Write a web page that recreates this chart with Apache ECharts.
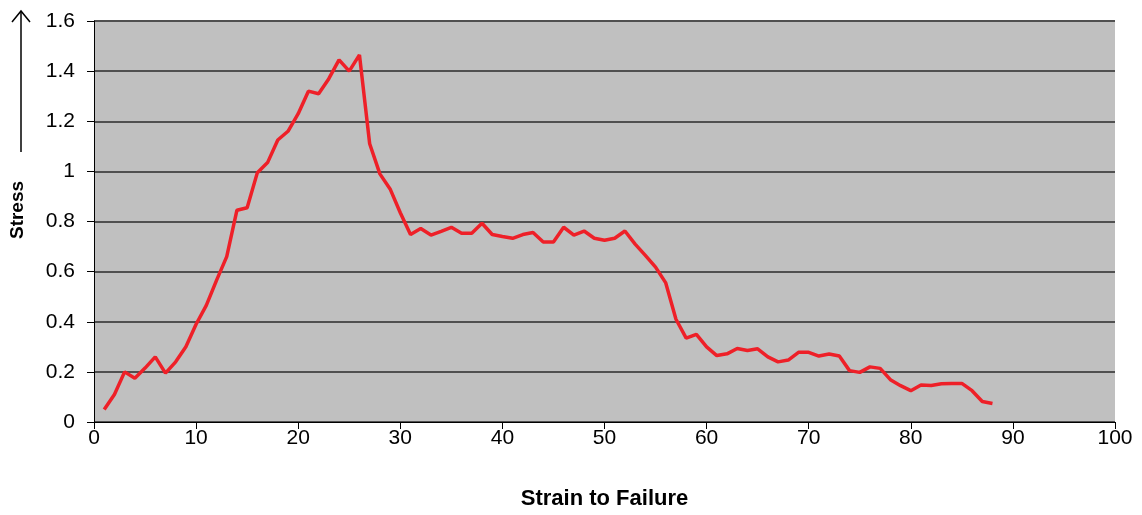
<!DOCTYPE html>
<html>
<head>
<meta charset="utf-8">
<script src="https://cdn.jsdelivr.net/npm/echarts@6/dist/echarts.min.js"></script>
<style>html,body{margin:0;padding:0;background:#fff;}#c{width:1142px;height:515px;}</style>
</head>
<body>
<div id="c"></div>
<script>
const strain = [1,2,3,4,5,6,7,8,9,10,11,12,13,14,15,16,17,18,19,20,21,22,23,24,25,26,27,28,29,30,31,32,33,34,35,36,37,38,39,40,41,42,43,44,45,46,47,48,49,50,51,52,53,54,55,56,57,58,59,60,61,62,63,64,65,66,67,68,69,70,71,72,73,74,75,76,77,78,79,80,81,82,83,84,85,86,87,88];
const stress = [0.05,0.11,0.20,0.175,0.215,0.26,0.195,0.24,0.30,0.39,0.465,0.565,0.66,0.845,0.855,0.995,1.035,1.125,1.16,1.23,1.32,1.31,1.37,1.445,1.40,1.465,1.11,0.99,0.93,0.835,0.748,0.772,0.746,0.761,0.777,0.753,0.753,0.793,0.748,0.740,0.733,0.748,0.756,0.718,0.718,0.777,0.746,0.762,0.733,0.725,0.733,0.762,0.71,0.665,0.618,0.555,0.41,0.335,0.35,0.30,0.265,0.272,0.293,0.285,0.292,0.26,0.24,0.247,0.278,0.278,0.263,0.271,0.263,0.205,0.198,0.22,0.214,0.169,0.145,0.125,0.148,0.146,0.153,0.154,0.154,0.125,0.082,0.074];
const xTitle = 'Strain to Failure';
const yTitle = 'Stress';

const chart = echarts.init(document.getElementById('c'));
const font = '"Liberation Sans", Arial, sans-serif';
chart.setOption({
  animation: false,
  grid: {left: 94, right: 27, top: 21, bottom: 92, show: true, backgroundColor: '#C0C0C0', borderWidth: 0},
  xAxis: {
    type: 'value', min: 0, max: 100, interval: 10,
    axisLine: {show: true, onZero: false, lineStyle: {color: '#000', width: 1}},
    axisTick: {show: true, inside: false, length: 7, lineStyle: {color: '#000'}},
    axisLabel: {color: '#000', fontSize: 21, fontFamily: font, margin: 6},
    splitLine: {show: false},
    name: xTitle, nameLocation: 'middle', nameGap: 66,
    nameTextStyle: {color: '#000', fontSize: 22, fontWeight: 'bold', fontFamily: font}
  },
  yAxis: {
    type: 'value', min: 0, max: 1.6, interval: 0.2,
    axisLine: {show: true, lineStyle: {color: '#000', width: 1}},
    axisTick: {show: true, inside: false, length: 7, lineStyle: {color: '#000'}},
    axisLabel: {color: '#000', fontSize: 21, fontFamily: font, margin: 19,
      formatter: v => String(Math.round(v*10)/10)},
    splitLine: {show: true, lineStyle: {color: '#505050', width: 2}}
  },
  graphic: [
    {type: 'text', x: 18, y: 210, rotation: Math.PI/2, style: {text: yTitle, fill: '#000', font: 'bold 19px ' + font, align: 'center', verticalAlign: 'middle'}},
    {type: 'line', shape: {x1: 21, y1: 11, x2: 21, y2: 152}, style: {stroke: '#000', lineWidth: 1.5}},
    {type: 'polyline', shape: {points: [[12, 22], [21, 11], [30, 22]]}, style: {stroke: '#000', lineWidth: 1.5, fill: null}}
  ],
  series: [{
    type: 'line',
    data: strain.map((x, i) => [x, stress[i]]),
    showSymbol: false, symbol: 'none',
    lineStyle: {color: '#EE2028', width: 3.5},
    z: 5
  }]
});
</script>
</body>
</html>
